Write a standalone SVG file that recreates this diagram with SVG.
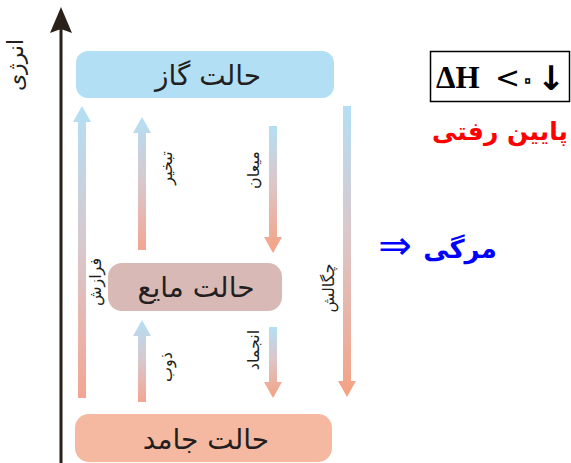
<svg xmlns="http://www.w3.org/2000/svg" width="571" height="463" viewBox="0 0 571 463">
<defs>
<linearGradient id="g" x1="0" y1="0" x2="0" y2="1">
<stop offset="0" stop-color="#b3dff5"/>
<stop offset="0.5" stop-color="#d9c7cc"/>
<stop offset="1" stop-color="#f4a592"/>
</linearGradient>
<linearGradient id="gd" x1="0" y1="0" x2="0" y2="1">
<stop offset="0" stop-color="#b3dff5"/>
<stop offset="0.45" stop-color="#dcc6c9"/>
<stop offset="1" stop-color="#f5a283"/>
</linearGradient>
</defs>
<style>
.box{font-family:"DejaVu Sans",sans-serif;font-size:28px;fill:#231f20;text-anchor:middle;}
.lbl{font-family:"DejaVu Sans",sans-serif;font-size:16px;fill:#231f20;text-anchor:middle;}
.up{fill:url(#g);}
.dn{fill:url(#gd);}
</style>
<rect width="571" height="463" fill="#ffffff"/>

<g id="axis">
<line x1="61" y1="463" x2="61" y2="28" stroke="#2b211b" stroke-width="3"/>
<polygon points="61,7 72,33 61,29 50,33" fill="#2b211b"/>
<text class="lbl" transform="translate(23,65) rotate(-90)" style="font-size:22px">انرژی</text>
</g>

<g id="gas">
<rect x="76" y="51" width="258" height="47" rx="12" fill="#b3dff5"/>
<text class="box" x="208" y="85">حالت گاز</text>
</g>
<g id="liquid">
<rect x="108" y="263" width="174" height="48" rx="14" fill="#d9b9b5"/>
<text class="box" x="196" y="297">حالت مایع</text>
</g>
<g id="solid">
<rect x="75" y="414" width="257" height="48" rx="14" fill="#f5b9a1"/>
<text class="box" x="206" y="449">حالت جامد</text>
</g>

<g id="connectors">
<path class="up" d="M78,398 L78,122 L73,122 L82,106 L91,122 L86,122 L86,398 Z"/>
<path class="up" d="M138,250 L138,133 L133,133 L142,117 L151,133 L146,133 L146,250 Z"/>
<path class="dn" d="M269,126 L277,126 L277,237 L282,237 L273,253 L264,237 L269,237 Z"/>
<path class="dn" d="M343,106 L351,106 L351,381 L356,381 L347,397 L338,381 L343,381 Z"/>
<path class="up" d="M138,402 L138,336 L133,336 L142,320 L151,336 L146,336 L146,402 Z"/>
<path class="dn" d="M269,327 L277,327 L277,382 L282,382 L273,398 L264,382 L269,382 Z"/>
</g>

<g id="labels">
<text class="lbl" transform="translate(101,282) rotate(-90)">فرازش</text>
<text class="lbl" transform="translate(172,168) rotate(-90)">تبخیر</text>
<text class="lbl" transform="translate(259,170) rotate(-90)">میعان</text>
<text class="lbl" transform="translate(172,367) rotate(-90)">ذوب</text>
<text class="lbl" transform="translate(259,350) rotate(-90)">انجماد</text>
<text class="lbl" transform="translate(334,288) rotate(-90)">چگالش</text>
</g>

<g id="note">
<rect x="430.5" y="51.5" width="139" height="50" fill="#ffffff" stroke="#000000" stroke-width="1.5"/>
<text y="88" font-family="Liberation Serif,serif" font-weight="bold" font-size="31" fill="#000000" style="direction:ltr;unicode-bidi:bidi-override"><tspan x="436">ΔH</tspan><tspan x="495" font-family="DejaVu Sans,sans-serif" font-weight="normal" font-size="30">&lt;</tspan><tspan x="519" y="90" font-family="DejaVu Sans,sans-serif" font-size="32" font-weight="normal" fill="none" stroke="#000000" stroke-width="1.5">۰</tspan><tspan x="537" y="90" font-family="DejaVu Sans,sans-serif" font-size="34" font-weight="bold">↓</tspan></text>
<text x="500" y="140" font-family="DejaVu Sans,sans-serif" font-weight="bold" font-size="25" text-anchor="middle" fill="#ff0000">پایین رفتی</text>
<text x="395" y="259" font-family="DejaVu Sans,sans-serif" font-size="40" text-anchor="middle" fill="#0000ff">⇒</text>
<text x="460" y="258" font-family="DejaVu Sans,sans-serif" font-weight="bold" font-size="26" text-anchor="middle" fill="#0000ff">مرگی</text>
</g>
</svg>
